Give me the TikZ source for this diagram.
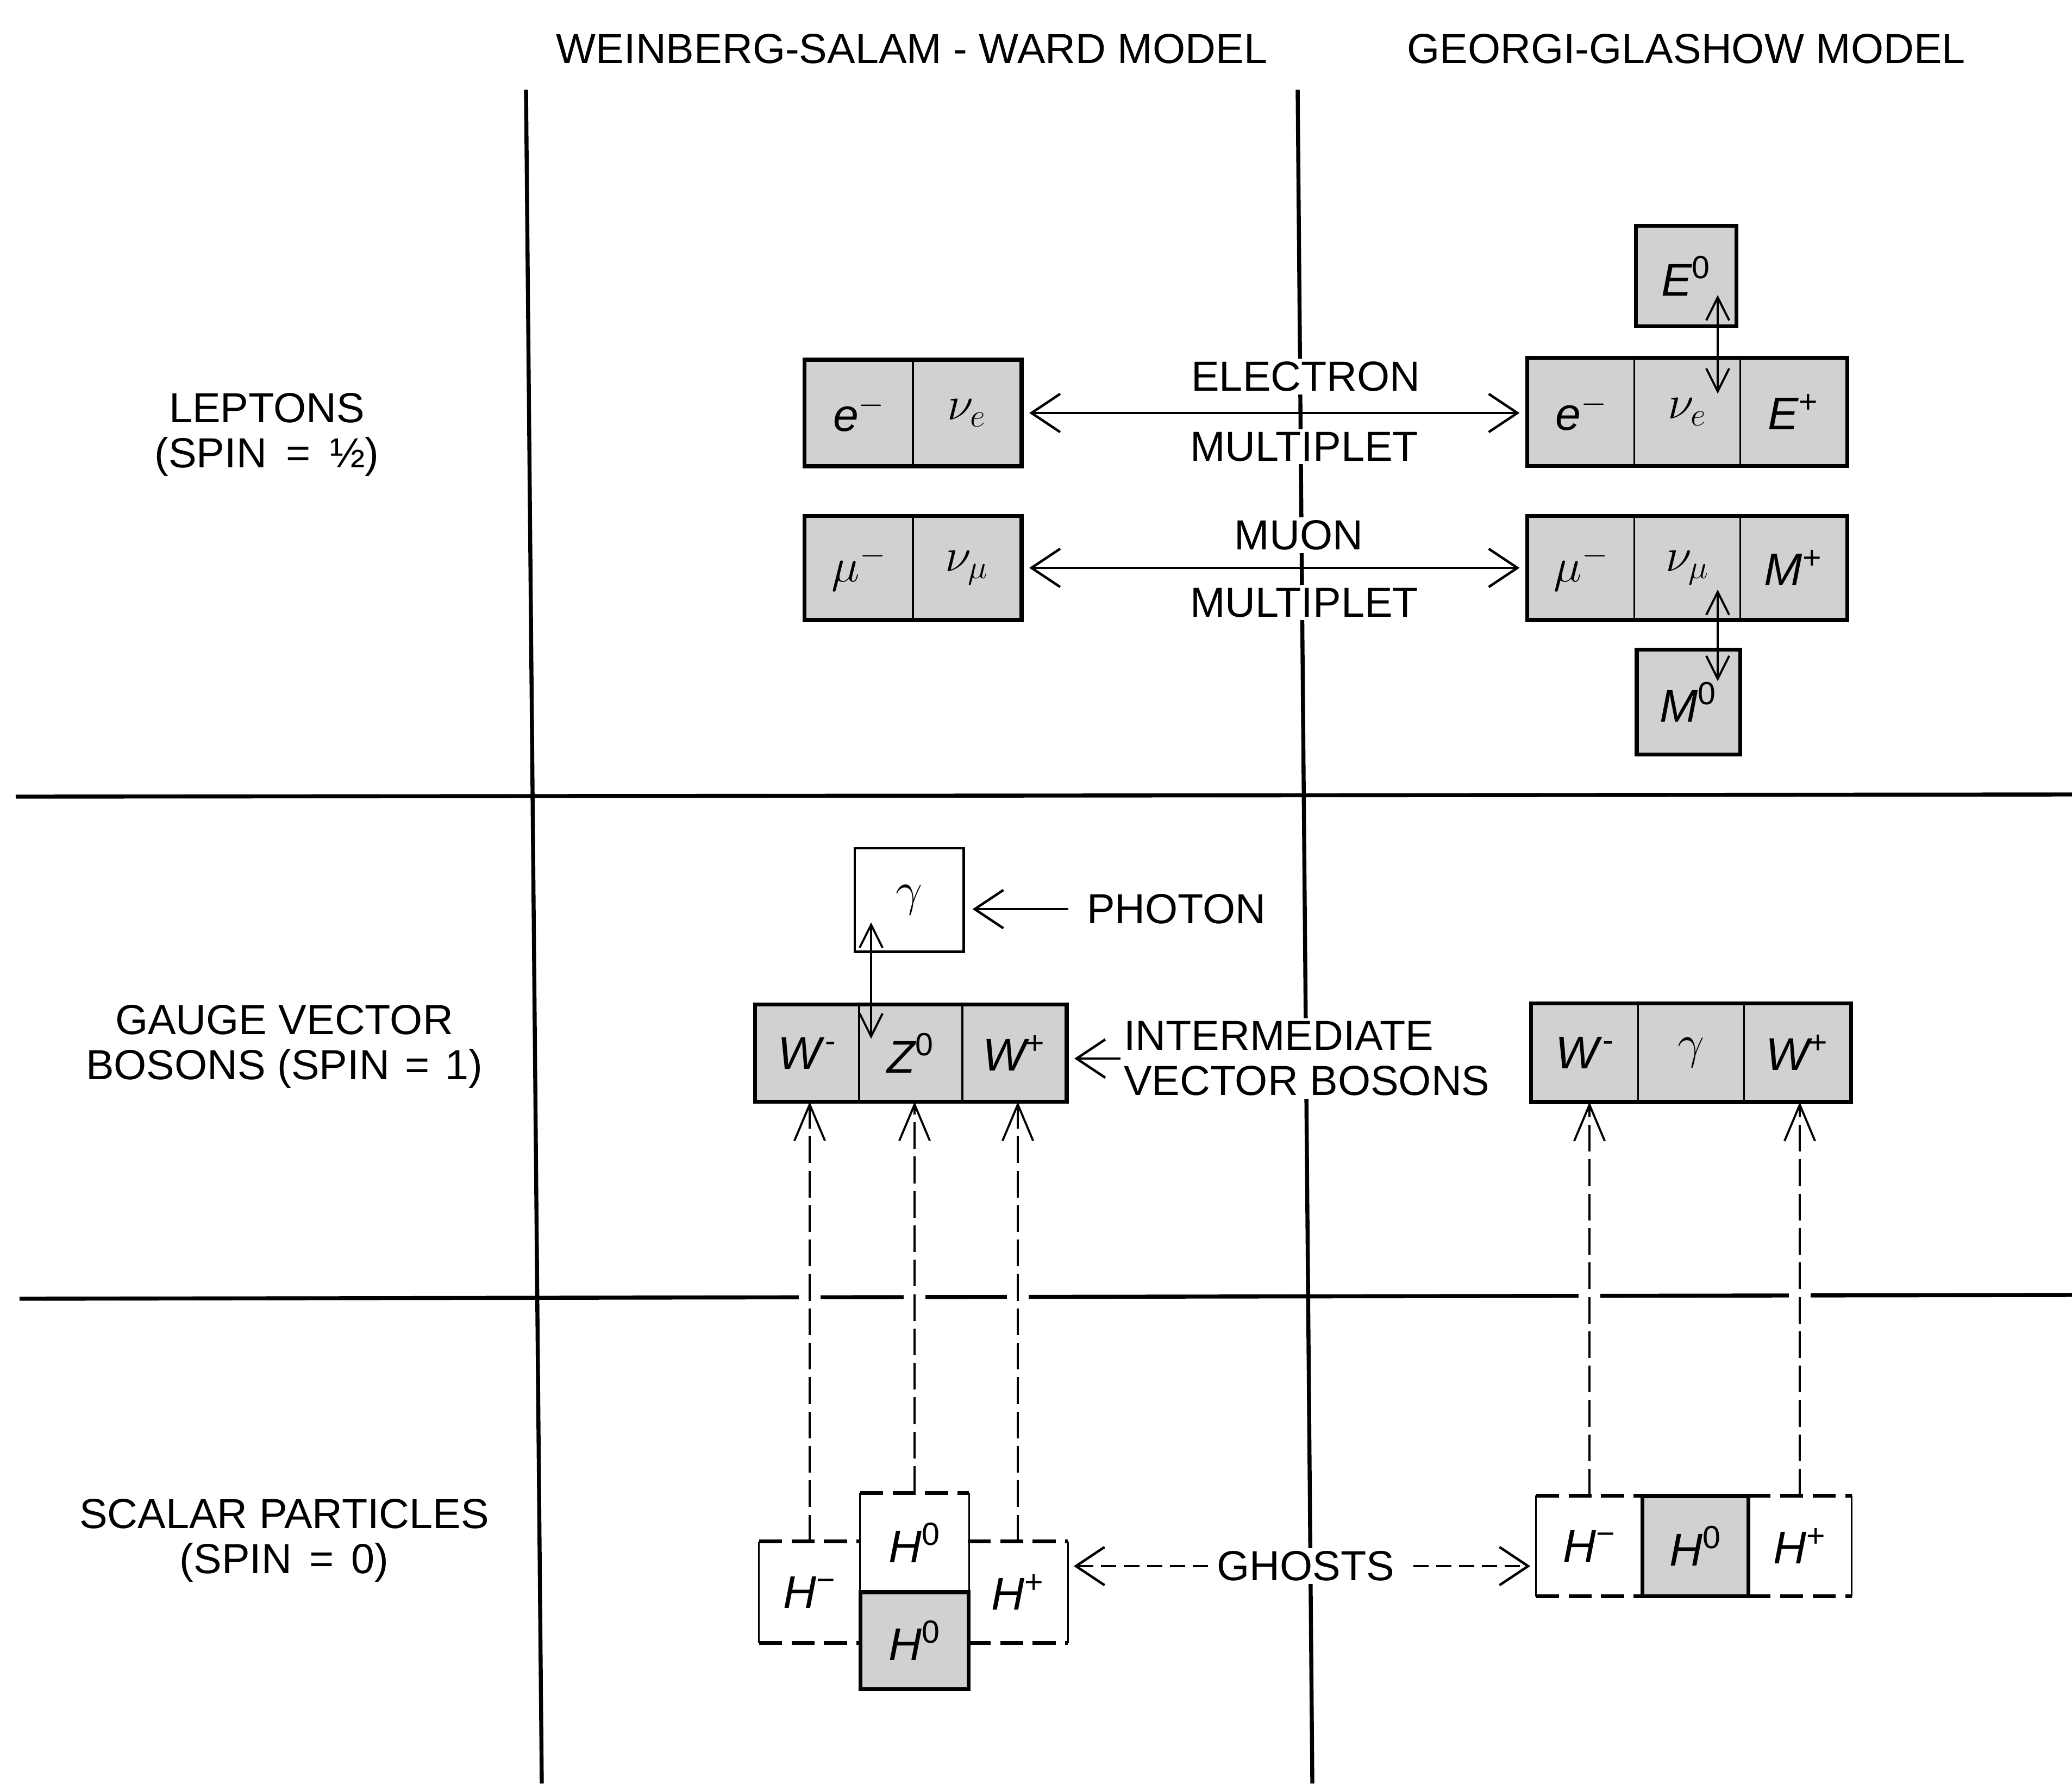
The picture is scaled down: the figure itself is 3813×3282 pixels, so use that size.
\documentclass[tikz,border=0pt]{standalone}
\usepackage{fontspec}
\setmainfont{Liberation Sans}
\usetikzlibrary{arrows.meta,calc}
\definecolor{shade}{gray}{0.82}
\newcommand{\upsup}[1]{\textsuperscript{\upshape #1}}
\begin{document}
\begin{tikzpicture}[x=0.01cm,y=-0.01cm,
  font=\fontsize{22}{23.5}\selectfont,
  grid/.style={line width=2.1pt},
  cell/.style={draw, line width=1.1pt, fill=shade, inner sep=0pt, font=\fontsize{24}{26}\selectfont\itshape},
  wcell/.style={inner sep=0pt, font=\fontsize{24}{26}\selectfont\itshape},
  frame/.style={line width=2pt},
  hedge/.style={line width=2pt, dash pattern=on 12pt off 5pt},
  vedge/.style={line width=0.8pt},
  lbl/.style={fill=white, inner sep=1.5pt},
  bigarr/.style={line width=1.3pt, {Straight Barb[length=15pt,width=20pt]}-{Straight Barb[length=15pt,width=20pt]}},
  smallarr/.style={line width=1.1pt, {Straight Barb[length=12pt,width=12pt]}-{Straight Barb[length=12pt,width=12pt]}},
  leftarr/.style={line width=1.3pt, -{Straight Barb[length=15pt,width=20pt]}},
  uparr/.style={line width=1.1pt, dash pattern=on 14pt off 4pt, -{Straight Barb[length=19pt,width=16pt]}},
  ghostarr/.style={line width=1.3pt, dash pattern=on 8pt off 4pt, -{Straight Barb[length=15pt,width=20pt]}},
]
\useasboundingbox (0,0) rectangle (3813,3282);

% grid
\coordinate (v1t) at (968,165);  \coordinate (v1b) at (997,3282);
\coordinate (v2t) at (2388,165); \coordinate (v2b) at (2415,3282);
\coordinate (g1L) at (29,1466);  \coordinate (g1R) at (3813,1462);
\coordinate (g2L) at (36,2390);  \coordinate (g2R) at (3813,2383);
\draw[grid] (v1t) -- (v1b);
\draw[grid] (v2t) -- (v2b);
\draw[grid] (g1L) -- (g1R);
\draw[grid] (g2L) -- (g2R);

% headers
\node (hWSW) at (1678,90) {WEINBERG-SALAM - WARD MODEL};
\node (hGG) at (3103,90) {GEORGI-GLASHOW MODEL};

% row labels
\node[align=center] (rowL) at (491,800) {LEPTONS\\(SPIN\hspace{4pt} = \hspace{4pt}½)};
\node[align=center] (rowG) at (523,1926) {GAUGE VECTOR\\BOSONS (SPIN\hspace{2pt} = \hspace{2pt}1)};
\node[align=center] (rowS) at (523,2835) {SCALAR PARTICLES\\(SPIN\hspace{3pt} = \hspace{3pt}0)};

% ---------- leptons ----------
\node[cell, minimum width=1.98cm, minimum height=1.92cm] (eL) at (1581,760) {e$^{-}$};
\node[cell, minimum width=1.98cm, minimum height=1.92cm] (nuL) at (1779,760) {$\nu_e$};
\draw[frame] (eL.north west) rectangle (nuL.south east);
\node[cell, minimum width=1.98cm, minimum height=1.88cm] (muL) at (1581,1045) {$\mu^{-}$};
\node[cell, minimum width=1.98cm, minimum height=1.88cm] (numuL) at (1779,1045) {$\nu_\mu$};
\draw[frame] (muL.north west) rectangle (numuL.south east);

\node[cell, minimum width=1.95cm, minimum height=1.95cm] (eG) at (2910,758) {e$^{-}$};
\node[cell, minimum width=1.95cm, minimum height=1.95cm] (nuG) at (3105,758) {$\nu_e$};
\node[cell, minimum width=1.95cm, minimum height=1.95cm] (EpG) at (3300,758) {E\upsup{+}};
\draw[frame] (eG.north west) rectangle (EpG.south east);
\node[cell, minimum width=1.95cm, minimum height=1.88cm] (muG) at (2910,1045) {$\mu^{-}$};
\node[cell, minimum width=1.95cm, minimum height=1.88cm] (numuG) at (3105,1045) {$\nu_\mu$};
\node[cell, minimum width=1.95cm, minimum height=1.88cm] (MpG) at (3300,1045) {M\upsup{+}};
\draw[frame] (muG.north west) rectangle (MpG.south east);

\node[cell, frame, minimum width=1.85cm, minimum height=1.85cm] (E0) at (3103,508) {E\upsup{0}};
\node[cell, frame, minimum width=1.9cm, minimum height=1.92cm] (M0) at (3107,1292) {M\upsup{0}};

\draw[smallarr] ($(E0.south)+(58,-61)$) -- ($(nuG.north)+(56,66)$);
\draw[smallarr] ($(numuG.south)+(56,-56)$) -- ($(M0.north)+(54,61)$);

\draw[bigarr, shorten <=4pt, shorten >=4pt] (nuL.east) -- (nuL.east -| eG.west);
\draw[bigarr, shorten <=4pt, shorten >=4pt] (numuL.east) -- (numuL.east -| muG.west);

\node[lbl] (elec) at (2403,693) {ELECTRON};
\node[lbl] (mult1) at (2400,822) {MULTIPLET};
\node[lbl] (muon) at (2390,985) {MUON};
\node[lbl] (mult2) at (2400,1109) {MULTIPLET};

% ---------- gauge bosons ----------
\node[draw, line width=1.4pt, fill=white, inner sep=0pt, minimum width=2cm, minimum height=1.9cm,
      font=\fontsize{24}{26}\selectfont] (gam) at (1673,1656) {$\gamma$};
\node[lbl, anchor=west] (ph) at (1994,1673) {PHOTON};
\draw[leftarr, shorten <=8pt, shorten >=4pt] (ph.west) -- (ph.west -| gam.east);

\node[cell, minimum width=1.9cm, minimum height=1.75cm] (Wm) at (1486,1938) {W\upsup{\kern2pt-}};
\node[cell, minimum width=1.9cm, minimum height=1.75cm] (Z) at (1676,1938) {Z\upsup{0}};
\node[cell, minimum width=1.9cm, minimum height=1.75cm] (Wp) at (1866,1938) {W\upsup{+}};
\draw[frame] (Wm.north west) rectangle (Wp.south east);
\draw[smallarr] ($(gam.south)+(-70,-56)$) -- ($(Z.north)+(-73,63)$);

\node[lbl, anchor=west, align=left] (ivb) at (2062,1948) {INTERMEDIATE\\VECTOR BOSONS};
\draw[leftarr, shorten >=4pt] (ivb.west) -- (ivb.west -| Wp.east);

\node[cell, minimum width=1.95cm, minimum height=1.78cm] (WmG) at (2917,1937) {W\upsup{\kern2pt-}};
\node[cell, minimum width=1.95cm, minimum height=1.78cm] (gG) at (3112,1937) {$\gamma$};
\node[cell, minimum width=1.95cm, minimum height=1.78cm] (WpG) at (3307,1937) {W\upsup{+}};
\draw[frame] (WmG.north west) rectangle (WpG.south east);

% ---------- scalars ----------
\node[wcell, minimum width=1.85cm, minimum height=1.85cm] (HmL) at (1490,2930) {H\upsup{−}};
\node[wcell, minimum width=1.99cm, minimum height=1.82cm] (H0u) at (1683,2839) {H\upsup{0}};
\node[wcell, minimum width=1.83cm, minimum height=1.85cm] (HpL) at (1873,2930) {H\upsup{+}};
\foreach \n in {HmL,H0u,HpL} {
  \draw[hedge] (\n.north west) -- (\n.north east);
  \draw[hedge] (\n.south west) -- (\n.south east);
}
\draw[vedge] (HmL.north west) -- (HmL.south west);
\draw[vedge] (H0u.north west) -- (H0u.south west);
\draw[vedge] (H0u.north east) -- (H0u.south east);
\draw[vedge] (HpL.north east) -- (HpL.south east);
\node[cell, frame, minimum width=1.99cm, minimum height=1.78cm] (H0d) at (1683,3019) {H\upsup{0}};

\node[wcell, minimum width=1.95cm, minimum height=1.84cm] (HmG) at (2925,2845) {H\upsup{−}};
\node[wcell, minimum width=1.9cm, minimum height=1.84cm] (HpG) at (3312,2845) {H\upsup{+}};
\foreach \n in {HmG,HpG} {
  \draw[hedge] (\n.north west) -- (\n.north east);
  \draw[hedge] (\n.south west) -- (\n.south east);
}
\draw[vedge] (HmG.north west) -- (HmG.south west);
\draw[vedge] (HpG.north east) -- (HpG.south east);
\node[cell, frame, minimum width=1.95cm, minimum height=1.84cm] (H0G) at (3120,2845) {H\upsup{0}};

% gaps in the lower grid line where the dashed arrows cross
\foreach \n in {HmL,H0u,HpL,HmG,HpG} {
  \fill[white] ($(\n.north |- g2L)+(-20,-16)$) rectangle ($(\n.north |- g2L)+(20,16)$);
}

\draw[uparr] (HmL.north) -- (HmL.north |- Wm.south);
\draw[uparr] (H0u.north) -- (H0u.north |- Z.south);
\draw[uparr] (HpL.north) -- (HpL.north |- Wp.south);
\draw[uparr] (HmG.north) -- (HmG.north |- WmG.south);
\draw[uparr] (HpG.north) -- (HpG.north |- WpG.south);

\node[lbl] (ghosts) at (2403,2882) {GHOSTS};
\draw[ghostarr, shorten <=3pt, shorten >=3pt] (ghosts.west) -- (ghosts.west -| HpL.east);
\draw[ghostarr, shorten <=8pt, shorten >=3pt] (ghosts.east) -- (ghosts.east -| HmG.west);
\end{tikzpicture}
\end{document}
